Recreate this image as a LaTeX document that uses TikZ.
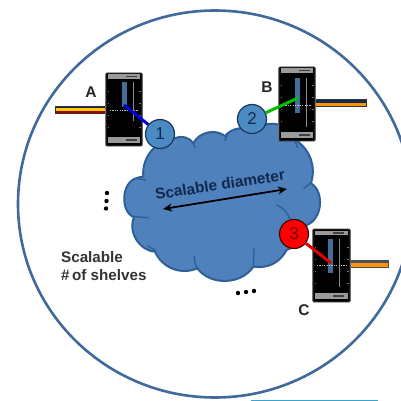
\documentclass[tikz,border=0pt]{standalone}
\usepackage{fontspec}
\setmainfont{Liberation Sans}
\usetikzlibrary{arrows.meta}
\definecolor{ringc}{HTML}{3F6A9B}
\definecolor{cloudf}{HTML}{4F81BD}
\definecolor{cloudl}{HTML}{2F5F96}
\definecolor{navyc}{HTML}{12294F}
\definecolor{circl}{HTML}{17375E}
\definecolor{barg}{HTML}{9A9A9A}
\definecolor{bluev}{HTML}{3A6FA8}
\tikzset{
  shelfbox/.style={draw=black!70,line width=.8pt,fill=black,rounded corners=.6pt},
  numc/.style={circle,minimum size=29pt,inner sep=0pt,line width=1.2pt,font=\fontsize{17}{17}\selectfont,text=navyc},
  bluec/.style={numc,draw=circl,fill=cloudf!92!cyan},
  redc/.style={numc,draw=black!70!red,fill=red,text=black!60!red},
  lab/.style={font=\bfseries\fontsize{15.5}{15.5}\selectfont,text=black!85,inner sep=0pt},
  txt/.style={font=\bfseries\fontsize{15.2}{18.5}\selectfont,text=black!80,inner sep=0pt,align=left},
  crease/.style={draw=cloudl,line width=1.4pt,line cap=round},
  dotm/.style={circle,fill=black,minimum size=4.4pt,inner sep=0pt},
  link/.style={line width=3pt}
}
\newcommand{\shelfdraw}[8]{% x0,x1,y0,y1,bluex,bluey0,bluey1,hy
  \fill[black!45] (#1-1.2,#3+1) rectangle (#1+1,#4-1);
  \fill[black!45] (#2-1,#3+1) rectangle (#2+1.2,#4-1);
  \path[shelfbox] (#1,#3) rectangle (#2,#4);
  \fill[barg] (#1+2,#3+1.5) rectangle (#2-2,#3+6);
  \fill[barg] (#1+2,#4-9) rectangle (#2-2,#4-3);
  \fill[black!75] (#1+20,#3+3) rectangle (#1+31,#3+4.5);
  \fill[black!75] (#1+20,#4-6.7) rectangle (#1+31,#4-5.2);
  \fill[bluev] (#5-2.5,#6) rectangle (#5+2.5,#7);
  \draw[black!60,line width=.7pt] (#5,#6) -- (#5,#7);
  \draw[black!45!white,line width=1pt] (#5+9,#6) -- (#5+9,#7+14);
  \draw[white!75!black,line width=.8pt,dash pattern=on 1.2pt off 1.2pt] (#1+4,#8) -- (#2-4,#8);
  \foreach \yy in {18,30,42,54}{\draw[black!55,line width=.5pt] (#1+1.5,#3+\yy) -- (#1+3,#3+\yy);\draw[black!55,line width=.5pt] (#2-3,#3+\yy) -- (#2-1.5,#3+\yy);}
}
\begin{document}
\begin{tikzpicture}[x=1pt,y=-1pt]
\useasboundingbox (0,0) rectangle (401,401);
\fill[white] (0,0) rectangle (401,401);
% outer ring
\begin{scope}
\clip (0,0) rectangle (401,401);
\draw[ringc,line width=2.6pt] (215,204) ellipse[x radius=197,y radius=193.5];
\fill[cloudf!70!cyan] (251,399.6) rectangle (378,402);
\end{scope}
% cloud (coordinates in px)
\begin{scope}[shift={(110,110)},x=.3333pt,y=-.3333pt]
\coordinate (c1) at (100,200);
\coordinate (c2) at (195,85);
\coordinate (c3) at (250,100);
\coordinate (c4) at (345,78);
\coordinate (c5) at (430,65);
\coordinate (c6) at (510,45);
\coordinate (c7) at (560,92);
\coordinate (c8) at (603,220);
\coordinate (c9) at (590,345);
\coordinate (c10) at (530,420);
\coordinate (c11) at (430,470);
\coordinate (c12) at (262,475);
\coordinate (c13) at (135,425);
\coordinate (c14) at (72,322);
\coordinate (c15) at (78,205);
\path[draw=cloudl,fill=cloudf,line width=2pt,line join=round]
 (c2) to[bend left=40] (c3) to[bend left=50] (c4) to[bend left=40] (c5) to[bend left=30] (c6)
 to[bend left=30] (c7) to[bend left=35] (c8) to[bend left=65] (c9) to[bend left=30] (c10)
 to[bend left=35] (c11) to[bend left=55] (c12) to[bend left=45] (c13) to[bend left=55] (c14)
 to[bend left=70] (c15) to[bend left=10] (c1) to[bend left=45] (c2) -- cycle;
\draw[crease] (500,285) to[bend left=25] (542,335);
\draw[crease] (582,235) -- (603,218);
\draw[crease] (78,205) -- (106,210);
\draw[crease] (72,320) -- (115,323);
\draw[crease] (113,408) -- (137,422);
\draw[crease] (253,438) to[bend right=15] (262,475);
\draw[crease] (432,414) -- (430,470);
\draw[crease] (345,92) -- (352,72);
\draw[crease] (250,100) -- (255,112);
\draw[crease] (555,92) -- (562,112);
\end{scope}
% cables
\fill[black!80] (55,106) rectangle (106,114);
\fill[navyc] (56,106.8) rectangle (106,108.2);
\fill[yellow!65!orange] (56,108.2) rectangle (106,111.2);
\fill[red!65!black] (56,111.2) rectangle (106,113.2);
\fill[black!80] (315,99) rectangle (367,107);
\fill[navyc] (315,99.8) rectangle (366,102.6);
\fill[orange!85!yellow] (315,102.6) rectangle (366,106.2);
\fill[black!70] (349,260) rectangle (389,268);
\fill[navyc!80] (349,260.8) rectangle (388,263.2);
\fill[orange!85!yellow] (349,263.2) rectangle (388,267.2);
% shelves
\shelfdraw{106}{142}{73}{146}{124}{82}{107}{110}
\shelfdraw{279}{315}{67}{141}{297}{78}{113}{105}
\shelfdraw{313}{350}{229}{302}{330}{239}{273}{265}
% numbered nodes and links
\node[bluec] (n1) at (160,134) {1};
\node[bluec] (n2) at (252,119) {2};
\node[redc] (n3) at (294,234) {3};
\coordinate (ca) at (124,105);
\coordinate (cb) at (298,98);
\coordinate (cc) at (331,263);
\draw[link,draw=blue!85!black] (ca) -- (n1);
\draw[link,draw=green!75!black] (cb) -- (n2);
\draw[link,draw=red!90!black] (cc) -- (n3);
% labels
\node[lab] (la) at (91,92) {A};
\node[lab] (lb) at (267,87) {B};
\node[lab] (lc) at (304,310) {C};
\node[txt,anchor=north west] (tx) at (61,251) {Scalable\\\#\,of shelves};
\node[font=\bfseries\fontsize{15.4}{15.4}\selectfont,text=navyc,rotate=8.7,inner sep=0pt] (sd) at (220,184.5) {Scalable diameter};
\coordinate (da) at (163,209);
\coordinate (db) at (287,189);
\draw[{Stealth[length=9pt,width=8pt]}-{Stealth[length=9pt,width=8pt]},black,line width=1.8pt] (da) -- (db);
% dots
\node[dotm] (d1) at (107,193) {};
\node[dotm] (d2) at (106.5,201) {};
\node[dotm] (d3) at (106,208.5) {};
\node[dotm] (d4) at (238,293) {};
\node[dotm] (d5) at (246,292) {};
\node[dotm] (d6) at (254,291) {};
\end{tikzpicture}
\end{document}
